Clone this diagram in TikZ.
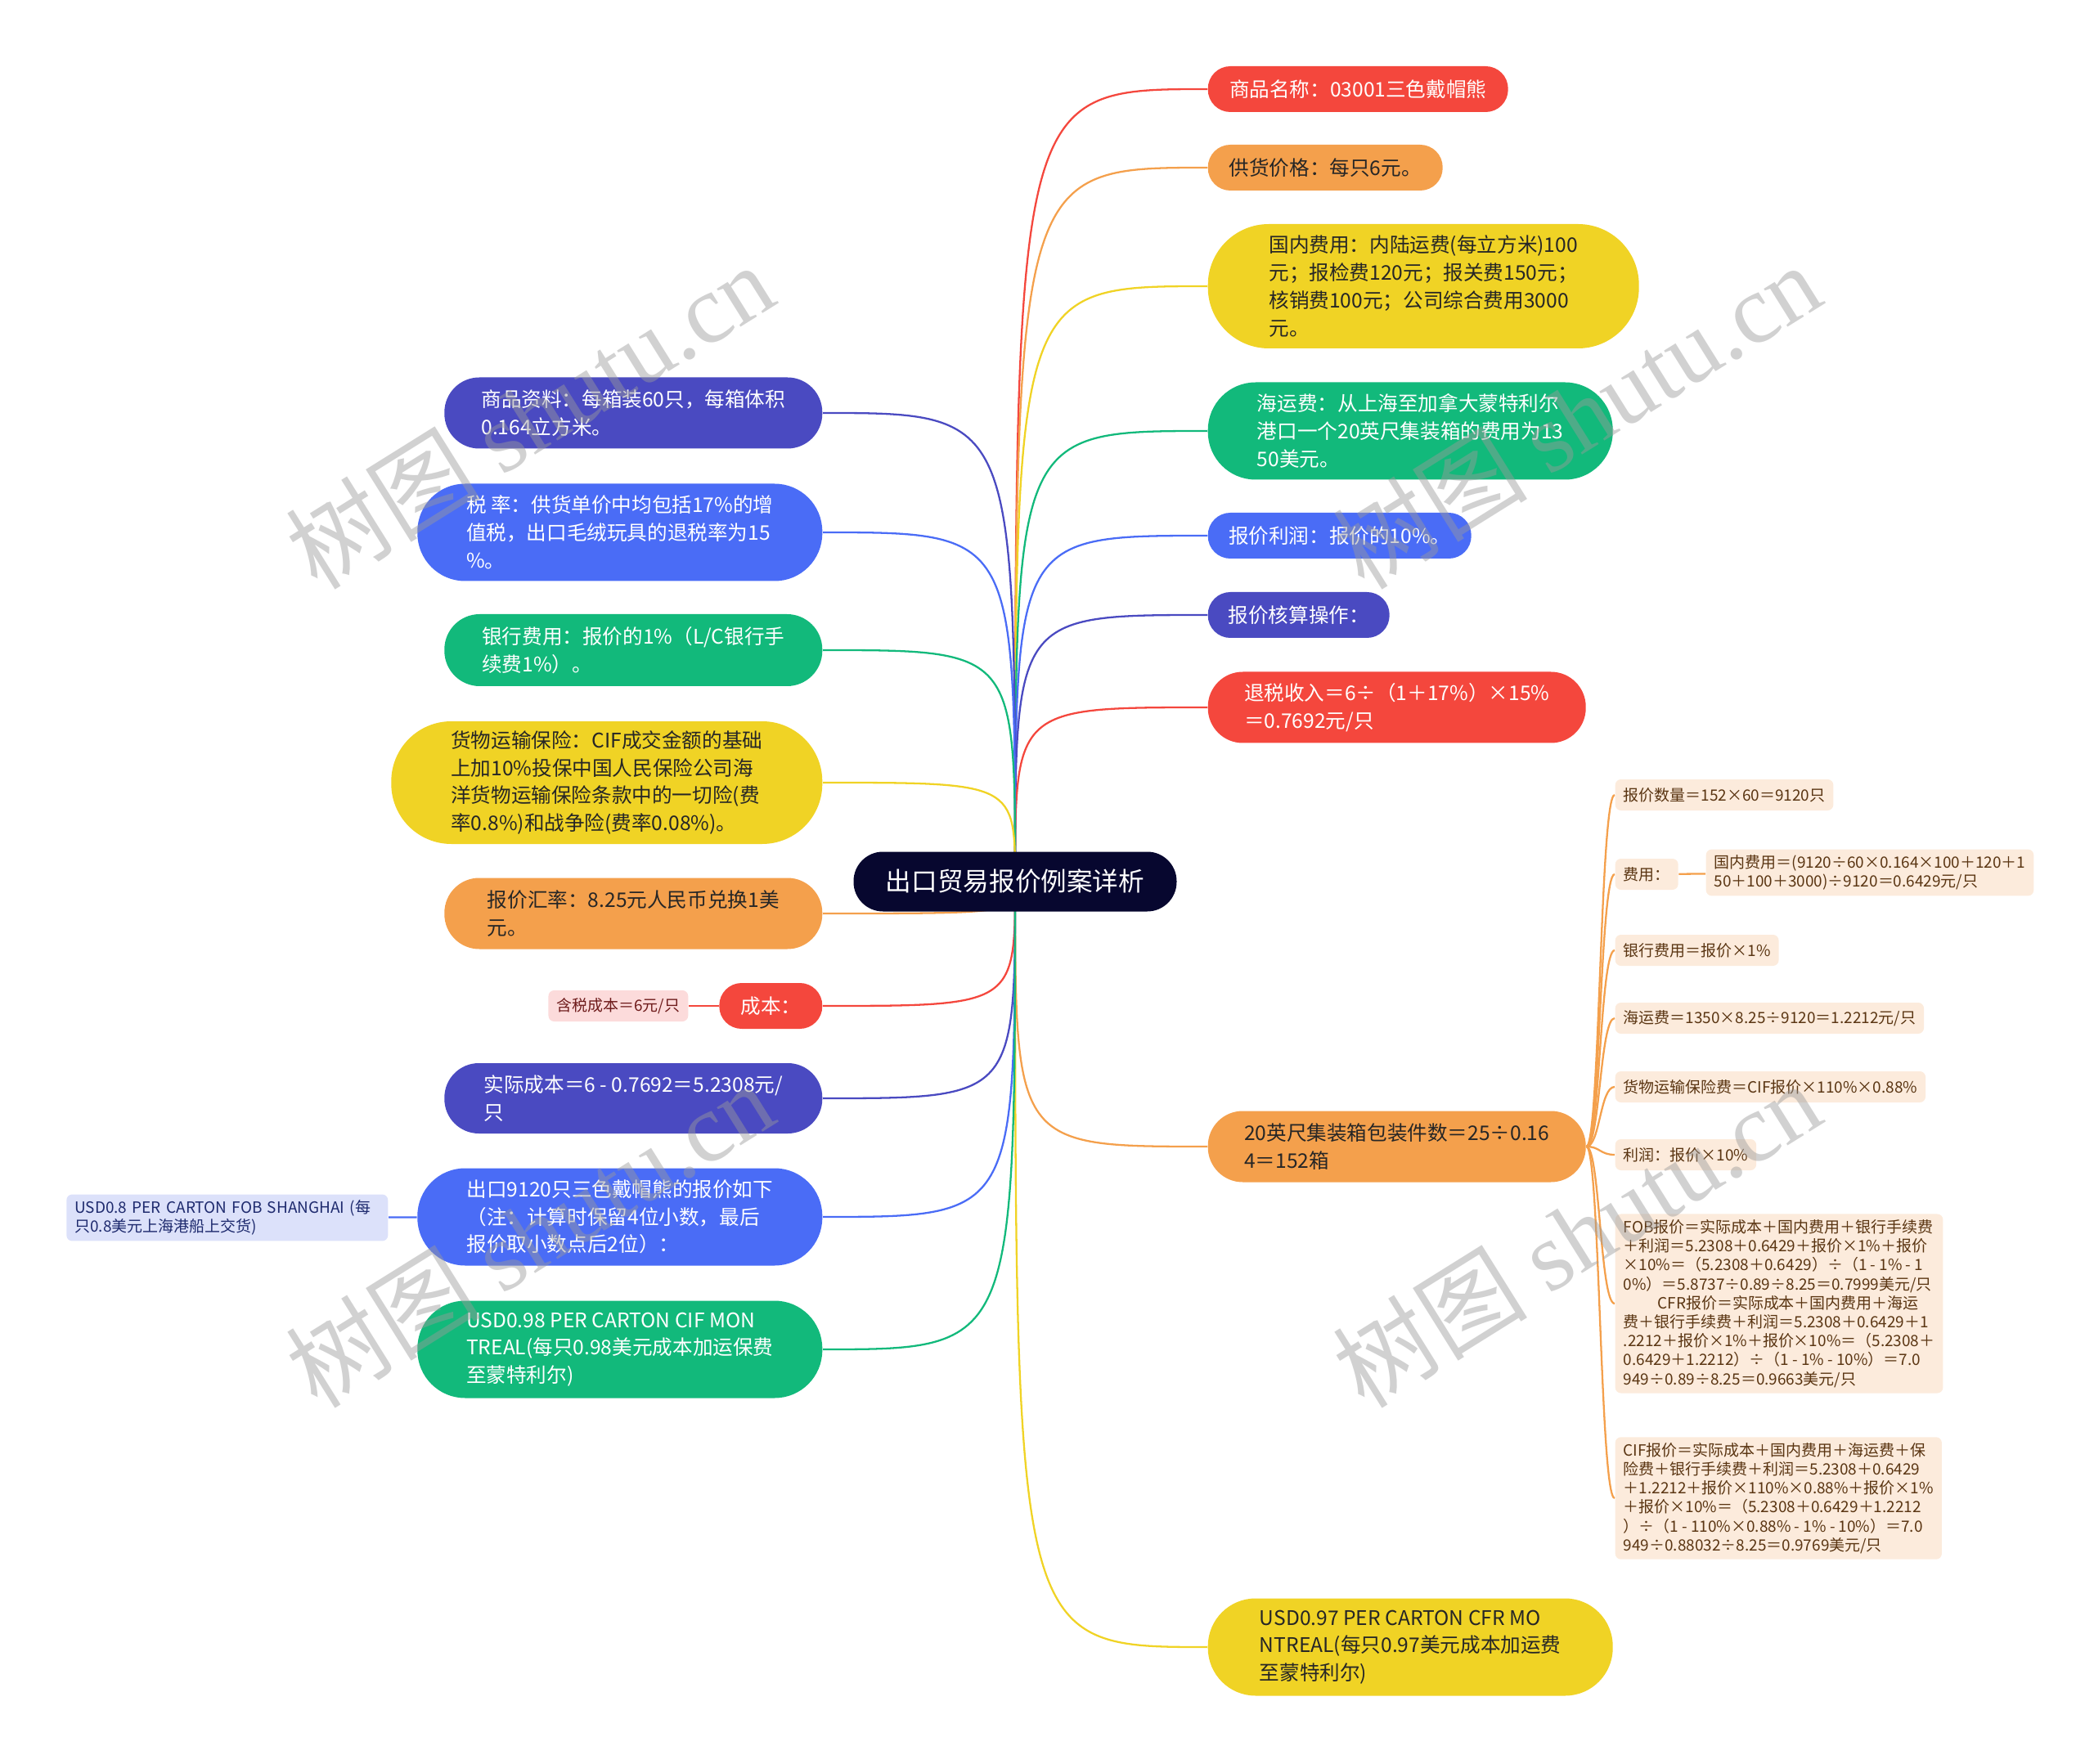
\documentclass[tikz,border=0pt]{standalone}
\usepackage{fontspec}
\setmainfont{Noto Sans CJK SC}
\newfontfamily\wmfont{Liberation Serif}
\usepackage{xcolor}
\usepackage{tikz}
\usetikzlibrary{positioning, backgrounds, calc}
\definecolor{rootnavy}{HTML}{07072F}
\definecolor{mapred}{HTML}{F4473D}
\definecolor{maporange}{HTML}{F4A04C}
\definecolor{mapyellow}{HTML}{F0D325}
\definecolor{mapgreen}{HTML}{12B97B}
\definecolor{mapblue}{HTML}{4A6CF6}
\definecolor{mapindigo}{HTML}{4A4AC1}
\definecolor{darktext}{HTML}{262626}
\definecolor{peach}{HTML}{FCEBDC}
\definecolor{peachtext}{HTML}{5A3512}
\definecolor{pinkbg}{HTML}{FCDBDB}
\definecolor{pinktext}{HTML}{6E1B1B}
\definecolor{lavender}{HTML}{DCE1FA}
\definecolor{lavtext}{HTML}{1E2A6E}
\definecolor{wmgray}{HTML}{9A9A9A}

\begin{document}
\begin{tikzpicture}[
  root/.style={
    fill=rootnavy, text=white, font=\fontsize{9}{11}\selectfont,
    minimum width=3.95cm, minimum height=0.73cm, rounded corners=0.36cm
  },
  pill/.style n args={3}{
    fill=#1, minimum width=#2cm, minimum height=#3cm,
    rounded corners=#3*0.49cm, inner sep=0pt, align=left,
    font=\fontsize{7}{9.6}\selectfont
  },
  light/.style={text=white},
  dark/.style={text=darktext},
  leaf/.style={
    fill=peach, text=peachtext, rounded corners=0.07cm,
    font=\fontsize{5.4}{6.6}\selectfont, align=left, anchor=west,
    inner xsep=0.1cm, inner ysep=0.07cm, minimum height=0.38cm
  },
  link/.style={draw=#1, line width=0.65pt},
  branch/.style={to path={.. controls (\tikztostart |- \tikztotarget)
    and (\tikztostart |- \tikztotarget) .. (\tikztotarget)}},
  fork/.style={to path={.. controls (trunk |- \tikztostart)
    and (trunk |- \tikztotarget) .. (\tikztotarget)}},
  wmark/.style={rotate=32, text=wmgray, opacity=0.45,
    font=\fontsize{34}{34}\selectfont}
]
  \useasboundingbox (0,0) rectangle (25.6,-21.57);

  \node[root] (root) at (12.41,-10.78) {出口贸易报价例案详析};

  % right side
  \node[pill={mapred}{3.67}{0.56}, light, anchor=west] (name) at (14.76,-1.09) {商品名称：03001三色戴帽熊};
  \node[pill={maporange}{2.87}{0.56}, dark, anchor=west] (price) at (14.76,-2.05) {供货价格：每只6元。};
  \node[pill={mapyellow}{5.27}{1.52}, dark, anchor=west] (domestic) at (14.76,-3.50) {国内费用：内陆运费(每立方米)100\\元；报检费120元；报关费150元；\\核销费100元；公司综合费用3000\\元。};
  \node[pill={mapgreen}{4.95}{1.19}, light, anchor=west] (freight) at (14.76,-5.27) {海运费：从上海至加拿大蒙特利尔\\港口一个20英尺集装箱的费用为13\\50美元。};
  \node[pill={mapblue}{3.22}{0.56}, light, anchor=west] (profit) at (14.76,-6.55) {报价利润：报价的10\%。};
  \node[pill={mapindigo}{2.22}{0.56}, light, anchor=west] (opcalc) at (14.76,-7.52) {报价核算操作：};
  \node[pill={mapred}{4.62}{0.87}, light, anchor=west] (refund) at (14.76,-8.65) {退税收入＝6÷（1＋17\%）×15\%\\＝0.7692元/只};
  \node[pill={maporange}{4.62}{0.87}, dark, anchor=west] (boxes) at (14.76,-14.02) {20英尺集装箱包装件数＝25÷0.16\\4＝152箱};
  \node[pill={mapyellow}{4.95}{1.19}, dark, anchor=west] (cfr) at (14.76,-20.14) {USD0.97 PER CARTON CFR MO\\NTREAL(每只0.97美元成本加运费\\至蒙特利尔)};

  % left side
  \node[pill={mapindigo}{4.62}{0.87}, light, anchor=east] (goods) at (10.06,-5.05) {商品资料：每箱装60只，每箱体积\\0.164立方米。};
  \node[pill={mapblue}{4.95}{1.19}, light, anchor=east] (tax) at (10.06,-6.51) {税~率：供货单价中均包括17\%的增\\值税，出口毛绒玩具的退税率为15\\\%。};
  \node[pill={mapgreen}{4.62}{0.88}, light, anchor=east] (bank) at (10.06,-7.95) {银行费用：报价的1\%（L/C银行手\\续费1\%）。};
  \node[pill={mapyellow}{5.27}{1.50}, dark, anchor=east] (insure) at (10.06,-9.57) {货物运输保险：CIF成交金额的基础\\上加10\%投保中国人民保险公司海\\洋货物运输保险条款中的一切险(费\\率0.8\%)和战争险(费率0.08\%)。};
  \node[pill={maporange}{4.62}{0.87}, dark, anchor=east] (rate) at (10.06,-11.17) {报价汇率：8.25元人民币兑换1美\\元。};
  \node[pill={mapred}{1.26}{0.56}, light, anchor=east] (cost) at (10.06,-12.30) {成本：};
  \node[pill={mapindigo}{4.62}{0.86}, light, anchor=east] (actual) at (10.06,-13.43) {实际成本＝6 - 0.7692＝5.2308元/\\只};
  \node[pill={mapblue}{4.95}{1.19}, light, anchor=east] (quote) at (10.06,-14.88) {出口9120只三色戴帽熊的报价如下\\（注：计算时保留4位小数，最后\\报价取小数点后2位）：};
  \node[pill={mapgreen}{4.95}{1.19}, light, anchor=east] (cif) at (10.06,-16.50) {USD0.98 PER CARTON CIF MON\\TREAL(每只0.98美元成本加运保费\\至蒙特利尔)};

  % leaves
  \node[leaf, fill=pinkbg, text=pinktext, anchor=east] (taxcost) at (8.42,-12.30) {含税成本＝6元/只};
  \node[leaf, fill=lavender, text=lavtext, anchor=east, text width=3.73cm] (fob) at (4.75,-14.89) {USD0.8 PER CARTON FOB SHANGHAI (每\\只0.8美元上海港船上交货)};

  \node[leaf] (qty) at (19.74,-9.72) {报价数量＝152×60＝9120只};
  \node[leaf] (fee) at (19.74,-10.69) {费用：};
  \node[leaf] (feecalc) at (20.85,-10.67) {国内费用＝(9120÷60×0.164×100＋120＋1\\50＋100＋3000)÷9120＝0.6429元/只};
  \node[leaf] (bankfee) at (19.74,-11.62) {银行费用＝报价×1\%};
  \node[leaf] (seafee) at (19.74,-12.45) {海运费＝1350×8.25÷9120＝1.2212元/只};
  \node[leaf] (insfee) at (19.74,-13.29) {货物运输保险费＝CIF报价×110\%×0.88\%};
  \node[leaf] (margin) at (19.74,-14.12) {利润：报价×10\%};
  \node[leaf] (fobcfr) at (19.74,-15.94) {FOB报价＝实际成本＋国内费用＋银行手续费\\＋利润＝5.2308＋0.6429＋报价×1\%＋报价\\×10\%＝（5.2308＋0.6429）÷（1 - 1\% - 1\\0\%）＝5.8737÷0.89÷8.25＝0.7999美元/只\\\hspace*{2.2em}CFR报价＝实际成本＋国内费用＋海运\\费＋银行手续费＋利润＝5.2308＋0.6429＋1\\.2212＋报价×1\%＋报价×10\%＝（5.2308＋\\0.6429＋1.2212）÷（1 - 1\% - 10\%）＝7.0\\949÷0.89÷8.25＝0.9663美元/只};
  \node[leaf] (cifq) at (19.74,-18.32) {CIF报价＝实际成本＋国内费用＋海运费＋保\\险费＋银行手续费＋利润＝5.2308＋0.6429\\＋1.2212＋报价×110\%×0.88\%＋报价×1\%\\＋报价×10\%＝（5.2308＋0.6429＋1.2212\\）÷（1 - 110\%×0.88\% - 1\% - 10\%）＝7.0\\949÷0.88032÷8.25＝0.9769美元/只};

  \coordinate (trunk) at (19.56,-14.02);

  \begin{scope}[on background layer]
    \draw[link=mapred, branch] (root.center) to (name.west);
    \draw[link=maporange, branch] (root.center) to (price.west);
    \draw[link=mapyellow, branch] (root.center) to (domestic.west);
    \draw[link=mapgreen, branch] (root.center) to (freight.west);
    \draw[link=mapblue, branch] (root.center) to (profit.west);
    \draw[link=mapindigo, branch] (root.center) to (opcalc.west);
    \draw[link=mapred, branch] (root.center) to (refund.west);
    \draw[link=maporange, branch] (root.center) to (boxes.west);
    \draw[link=mapyellow, branch] (root.center) to (cfr.west);

    \draw[link=mapindigo, branch] (root.center) to (goods.east);
    \draw[link=mapblue, branch] (root.center) to (tax.east);
    \draw[link=mapgreen, branch] (root.center) to (bank.east);
    \draw[link=mapyellow, branch] (root.center) to (insure.east);
    \draw[link=maporange, branch] (root.center) to (rate.east);
    \draw[link=mapred, branch] (root.center) to (cost.east);
    \draw[link=mapindigo, branch] (root.center) to (actual.east);
    \draw[link=mapblue, branch] (root.center) to (quote.east);
    \draw[link=mapgreen, branch] (root.center) to (cif.east);

    \draw[link=mapred] (cost) -- (taxcost);
    \draw[link=mapblue] (quote) -- (fob);

    \draw[link=maporange, fork] (boxes.east) to (qty.west);
    \draw[link=maporange, fork] (boxes.east) to (fee.west);
    \draw[link=maporange, fork] (boxes.east) to (bankfee.west);
    \draw[link=maporange, fork] (boxes.east) to (seafee.west);
    \draw[link=maporange, fork] (boxes.east) to (insfee.west);
    \draw[link=maporange, fork] (boxes.east) to (margin.west);
    \draw[link=maporange, fork] (boxes.east) to (fobcfr.west);
    \draw[link=maporange, fork] (boxes.east) to (cifq.west);
    \draw[link=maporange] (fee) -- (feecalc);
  \end{scope}

  % watermarks
  \node[wmark] (wm1) at (6.47,-5.08) {树图 {\wmfont shutu.cn}};
  \node[wmark] (wm2) at (19.27,-5.08) {树图 {\wmfont shutu.cn}};
  \node[wmark] (wm3) at (6.47,-15.09) {树图 {\wmfont shutu.cn}};
  \node[wmark] (wm4) at (19.27,-15.09) {树图 {\wmfont shutu.cn}};
\end{tikzpicture}
\end{document}
